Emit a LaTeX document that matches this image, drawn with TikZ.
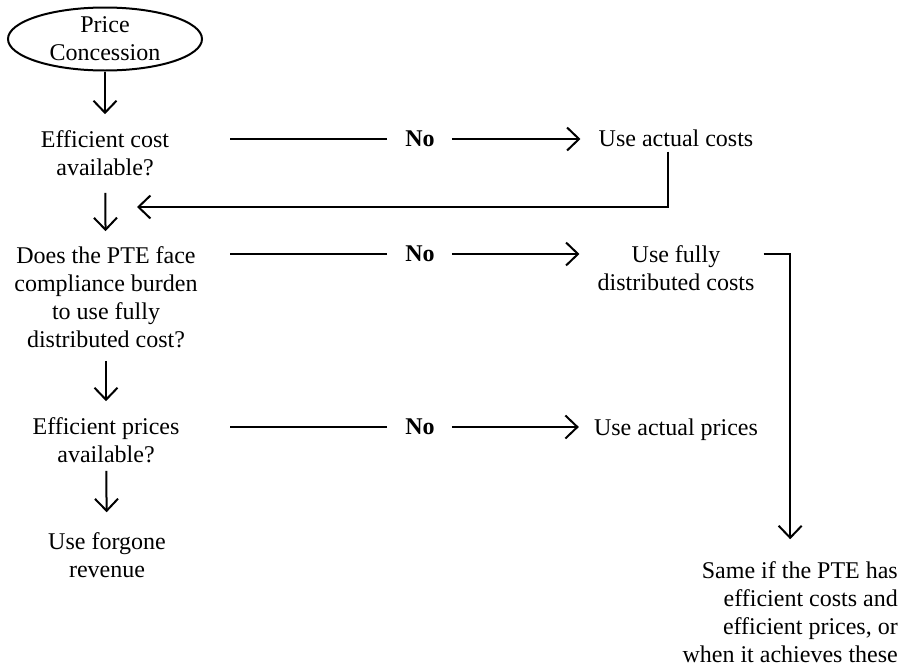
\documentclass[tikz,border=0pt]{standalone}
\usepackage{fontspec}
\setmainfont{Liberation Serif}
\usetikzlibrary{arrows.meta,shapes.geometric}
\newcommand{\chartfont}{\fontsize{24}{28}\selectfont}
\tikzset{
  question/.style={align=center, inner sep=0pt},
  outcome/.style={align=center, inner sep=0pt},
  nolabel/.style={font=\chartfont\bfseries, inner sep=0pt},
  link/.style={line width=2pt},
  flow/.style={link, -{Straight Barb[length=12pt,width=23pt,line width=2pt]}}
}
\begin{document}
\begin{tikzpicture}[x=1pt, y=-1pt, font=\chartfont]
        \useasboundingbox (0,0) rectangle (902,667);
        \node[draw, line width=2pt, ellipse, minimum width=194pt, minimum height=63pt, inner sep=0pt, align=center] (start) at (105,39) {Price\\Concession};
        \node[question] (q1) at (105,153) {Efficient cost\\available?};
        \node[question] (q2) at (106,297) {Does the PTE face\\compliance burden\\to use fully\\distributed cost?};
        \node[question] (q3) at (106,440) {Efficient prices\\available?};
        \node[question] (forg) at (107,555) {Use forgone\\revenue};
        \node[nolabel] (n1) at (420,139) {No};
        \node[nolabel] (n2) at (420,254) {No};
        \node[nolabel] (n3) at (420,427) {No};
        \node[outcome] (r1) at (676,138) {Use actual costs};
        \node[outcome] (r2) at (676,268) {Use fully\\distributed costs};
        \node[outcome] (r3) at (676,430) {Use actual prices};
        \node[outcome, align=right, anchor=east] (same) at (898,612) {Same if the PTE has\\efficient costs and\\efficient prices, or\\when it achieves these};
        \coordinate (lineL) at (230,0);
        \coordinate (ret) at (137,207);
        % down the left column
        \draw[flow, shorten >=16pt] (start) -- (start |- q1.north);
        \draw[flow, shorten <=17pt, shorten >=15pt] (q1) -- (q2);
        \draw[flow, shorten <=13pt, shorten >=16pt] (q2) -- (q3);
        \draw[flow, shorten <=8pt, shorten >=20pt] (q3) -- (forg);
        % the No branches
        \draw[link, shorten <=18pt] (n1) -- (n1 -| lineL);
        \draw[link, shorten <=18pt] (n2) -- (n2 -| lineL);
        \draw[link, shorten <=18pt] (n3) -- (n3 -| lineL);
        \draw[flow, shorten <=17pt, shorten >=18pt] (n1) -- (n1 -| r1.west);
        \draw[flow, shorten <=17pt, shorten >=18pt] (n2) -- (n2 -| r2.west);
        \draw[flow, shorten <=17pt, shorten >=15pt] (n3) -- (n3 -| r3.west);
        % back and across
        \draw[flow, shorten <=5pt] ([xshift=-8pt]r1.south) |- (ret);
        \draw[flow, shorten <=9pt, shorten >=22pt] (r2.east |- n2) -| (same.north);
      \end{tikzpicture}
\end{document}
